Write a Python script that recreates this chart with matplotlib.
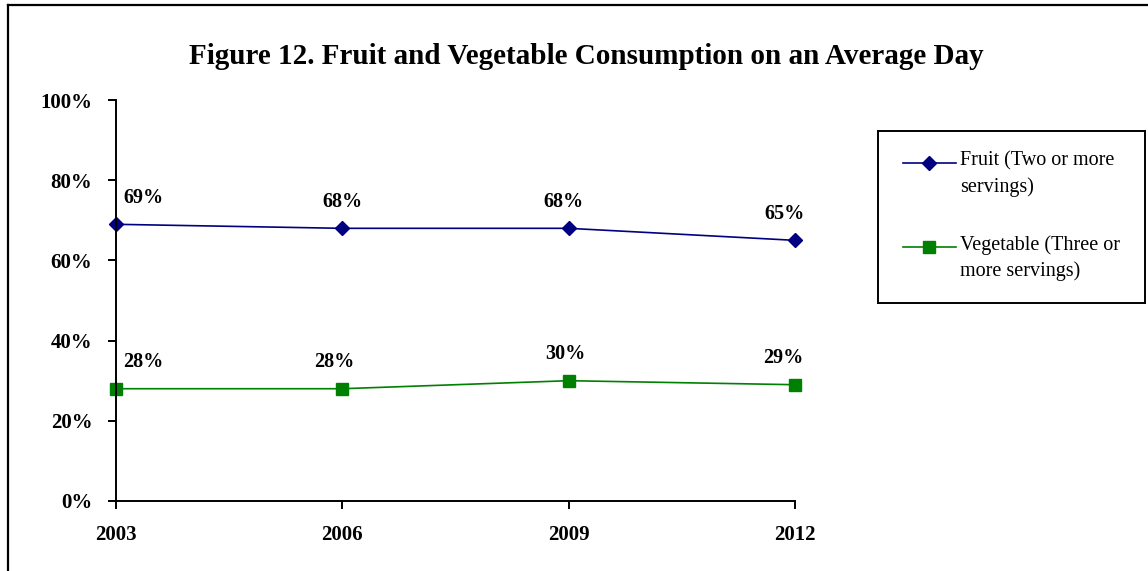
import matplotlib.pyplot as plt
from matplotlib.lines import Line2D
import numpy as np

# Chart data
years = ["2003", "2006", "2009", "2012"]
fruit = [69, 68, 68, 65]
vegetable = [28, 28, 30, 29]
series_names = ["Fruit (Two or more\nservings)", "Vegetable (Three or\nmore servings)"]
title = "Figure 12. Fruit and Vegetable Consumption on an Average Day"

# Look
navy = "#000080"
green = "#008000"
plt.rcParams["font.family"] = ["Liberation Serif", "DejaVu Serif"]

W, H = 1148, 571
fig = plt.figure(figsize=(W / 100, H / 100), dpi=100)

# outer frame (only top and left edges are in view)
fig.add_artist(Line2D([8 / W, 8 / W], [0, 1 - 5 / H], transform=fig.transFigure, color="black", lw=1.6))
fig.add_artist(Line2D([8 / W, 1], [1 - 5 / H, 1 - 5 / H], transform=fig.transFigure, color="black", lw=1.6))

fig.text(586 / W, 1 - 57 / H, title, ha="center", va="center", fontsize=21, fontweight="bold")

ax = fig.add_axes([116 / W, 1 - 501 / H, (795 - 116) / W, (501 - 100) / H])
x = np.arange(len(years))
ax.plot(x, fruit, color=navy, lw=1.2, marker="D", markersize=7, clip_on=False)
ax.plot(x, vegetable, color=green, lw=1.2, marker="s", markersize=9, clip_on=False)

ax.set_xlim(0, len(years) - 1)
ax.set_ylim(0, 100)
ax.set_xticks(x)
ax.set_xticklabels(years)
ax.set_yticks(range(0, 101, 20))
ax.set_yticklabels([f"{v}%" for v in range(0, 101, 20)])
for lab in ax.get_xticklabels() + ax.get_yticklabels():
    lab.set_fontweight("bold")
    lab.set_fontsize(15)
ax.tick_params(axis="both", direction="out", length=6, width=1.4, color="black")
ax.tick_params(axis="y", pad=11)
ax.tick_params(axis="x", pad=11)
for s in ["top", "right"]:
    ax.spines[s].set_visible(False)
for s in ["left", "bottom"]:
    ax.spines[s].set_linewidth(1.4)

# data labels (pixel nudges to sit like the original)
fruit_dx = [27, 0, -5, -10]
veg_dx = [27, -8, -3, -12]
for i in range(len(years)):
    ax.annotate(f"{fruit[i]}%", (x[i], fruit[i]), xytext=(fruit_dx[i], 26), textcoords="offset pixels",
                ha="center", va="center", fontsize=14.5, fontweight="bold")
    ax.annotate(f"{vegetable[i]}%", (x[i], vegetable[i]), xytext=(veg_dx[i], 27), textcoords="offset pixels",
                ha="center", va="center", fontsize=14.5, fontweight="bold")

# legend box drawn by hand so the marker sits on the first text line
lw_, lh_ = 267, 172
lax = fig.add_axes([878 / W, 1 - 303 / H, lw_ / W, lh_ / H])
lax.set_xlim(0, lw_)
lax.set_ylim(lh_, 0)
lax.set_xticks([])
lax.set_yticks([])
for s in lax.spines.values():
    s.set_linewidth(1.4)
for name, color, mk, ms, y0 in [(series_names[0], navy, "D", 7, 32), (series_names[1], green, "s", 9, 116)]:
    lax.plot([25, 78], [y0, y0], color=color, lw=1.2)
    lax.plot([51], [y0], color=color, marker=mk, markersize=ms, lw=0)
    lax.text(82, y0 - 12, name, ha="left", va="top", fontsize=14.5, linespacing=1.45)

fig.savefig("out.png", dpi=100)
